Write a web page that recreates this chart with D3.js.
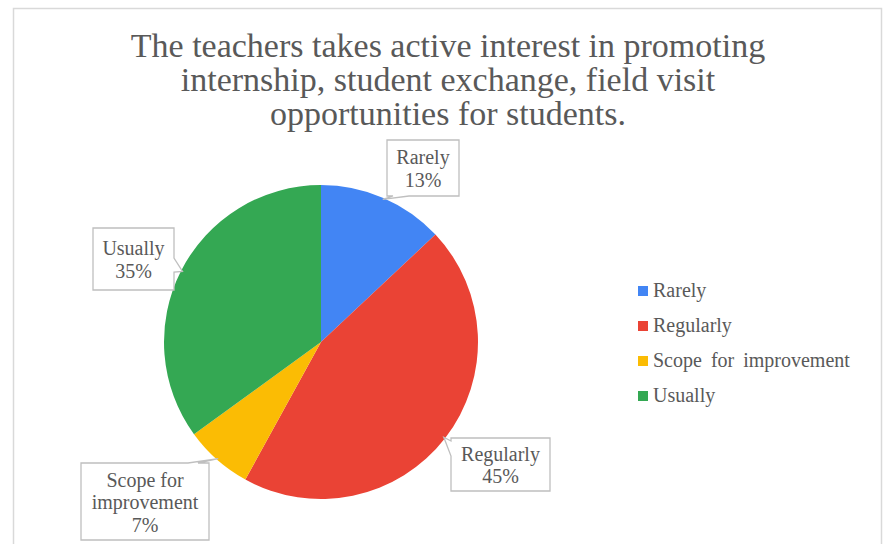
<!DOCTYPE html>
<html>
<head>
<meta charset="utf-8">
<script src="https://cdn.jsdelivr.net/npm/d3@7"></script>
<style>
  body { margin: 0; background: #fff; }
  text { font-family: "Liberation Serif", "Times New Roman", serif; fill: #595959; }
</style>
</head>
<body>
<div id="chart"></div>
<script>
// chart data
const categories = ["Rarely", "Regularly", "Scope for improvement", "Usually"];
const values = [13, 45, 7, 35];
const colors = ["#4285F4", "#EA4335", "#FBBC04", "#34A853"];
const titleLines = ["The teachers takes active interest in promoting",
  "internship, student exchange, field visit",
  "opportunities for students."];

const w = 896, h = 544;
const cx = 321, cy = 342, r = 157;

const svg = d3.select("#chart").append("svg")
    .attr("width", w)
    .attr("height", h);

// outer chart border
svg.append("rect")
    .attr("x", 13.5).attr("y", 8.5)
    .attr("width", 868).attr("height", 560)
    .attr("fill", "#fff")
    .attr("stroke", "#d9d9d9")
    .attr("stroke-width", 1.5);

svg.selectAll(".title")
    .data(titleLines)
    .enter().append("text")
    .attr("class", "title")
    .attr("x", 448)
    .attr("y", (d, i) => 57 + i * 34)
    .attr("text-anchor", "middle")
    .style("font-size", "34px")
    .text(d => d);

const data = categories.map((c, i) => ({ name: c, value: values[i], color: colors[i] }));

const pie = d3.pie().sort(null).value(d => d.value);
const arc = d3.arc().innerRadius(0).outerRadius(r);
const arcs = pie(data);

const g = svg.append("g").attr("transform", `translate(${cx},${cy})`);
g.selectAll("path")
    .data(arcs)
    .enter().append("path")
    .attr("d", arc)
    .attr("fill", d => d.data.color);

// callout boxes: box rect and which side the pointer leaves from
const callouts = [
  { box: [387, 140, 459, 196], side: "bottom", base: [393, 409] },
  { box: [451, 438, 550, 491], side: "left", base: [441, 456] },
  { box: [81, 463, 209, 540], side: "top", base: [188, 198] },
  { box: [93, 228, 174, 290], side: "right", base: [258, 272] }
];

arcs.forEach((a, i) => {
  const c = callouts[i];
  const [x0, y0, x1, y1] = c.box;
  const mid = (a.startAngle + a.endAngle) / 2;
  const tx = cx + r * Math.sin(mid) * 0.99, ty = cy - r * Math.cos(mid) * 0.99;
  let pts;
  if (c.side === "bottom") {
    pts = [[x0, y0], [x1, y0], [x1, y1], [c.base[1], y1], [tx, ty], [c.base[0], y1], [x0, y1]];
  } else if (c.side === "left") {
    pts = [[x0, y0], [x1, y0], [x1, y1], [x0, y1], [x0, c.base[1]], [tx, ty], [x0, c.base[0]]];
  } else if (c.side === "top") {
    pts = [[x0, y0], [c.base[0], y0], [tx, ty], [c.base[1], y0], [x1, y0], [x1, y1], [x0, y1]];
  } else {
    pts = [[x0, y0], [x1, y0], [x1, c.base[0]], [tx, ty], [x1, c.base[1]], [x1, y1], [x0, y1]];
  }
  svg.append("path")
      .attr("d", d3.line()(pts) + "Z")
      .attr("fill", "#fff")
      .attr("stroke", "#bfbfbf")
      .attr("stroke-width", 1.3);

  const lines = a.data.name === "Scope for improvement"
    ? ["Scope for", "improvement", a.data.value + "%"]
    : [a.data.name, a.data.value + "%"];
  const midx = (x0 + x1) / 2;
  const startY = (y0 + y1) / 2 - (lines.length - 1) * 11 + 7;
  lines.forEach((t, j) => {
    svg.append("text")
        .attr("x", midx)
        .attr("y", startY + j * 22.5)
        .attr("text-anchor", "middle")
        .style("font-size", "20px")
        .text(t);
  });
});

// legend
const legend = svg.selectAll(".legend")
    .data(data)
    .enter().append("g")
    .attr("class", "legend")
    .attr("transform", (d, i) => `translate(638,${291 + i * 35})`);

legend.append("rect")
    .attr("x", 0).attr("y", -5)
    .attr("width", 10).attr("height", 10)
    .attr("fill", d => d.color);

legend.append("text")
    .attr("x", 15)
    .attr("y", 6)
    .style("font-size", "20px")
    .style("word-spacing", "4px")
    .text(d => d.name);
</script>
</body>
</html>
